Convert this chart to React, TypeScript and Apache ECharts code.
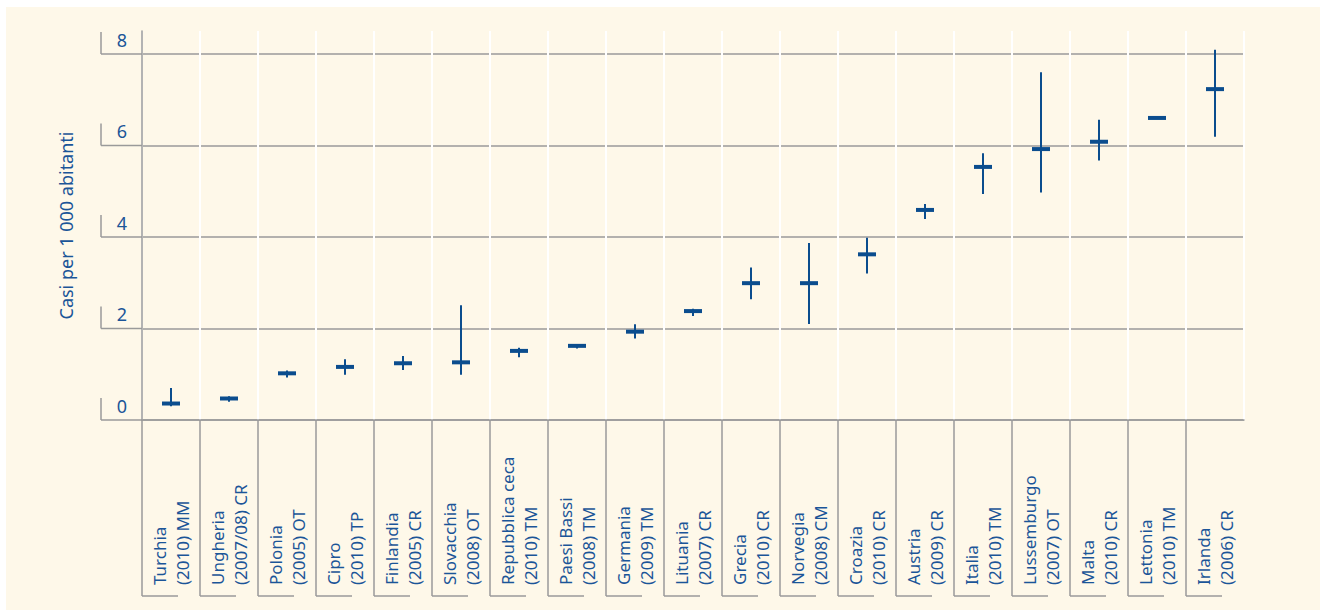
import React, { useEffect, useRef } from 'react';
import * as echarts from 'echarts';

const categories = [
  'Turchia\n(2010) MM',
  'Ungheria\n(2007/08) CR',
  'Polonia\n(2005) OT',
  'Cipro\n(2010) TP',
  'Finlandia\n(2005) CR',
  'Slovacchia\n(2008) OT',
  'Repubblica ceca\n(2010) TM',
  'Paesi Bassi\n(2008) TM',
  'Germania\n(2009) TM',
  'Lituania\n(2007) CR',
  'Grecia\n(2010) CR',
  'Norvegia\n(2008) CM',
  'Croazia\n(2010) CR',
  'Austria\n(2009) CR',
  'Italia\n(2010) TM',
  'Lussemburgo\n(2007) OT',
  'Malta\n(2010) CR',
  'Lettonia\n(2010) TM',
  'Irlanda\n(2006) CR',
];

const values = [0.36, 0.47, 1.02, 1.16, 1.24, 1.26, 1.51, 1.62, 1.93, 2.38, 2.99, 2.99, 3.62, 4.59, 5.53, 5.92, 6.08, 6.6, 7.23];
const lows = [0.3, 0.4, 0.93, 0.99, 1.09, 0.99, 1.37, 1.56, 1.78, 2.27, 2.64, 2.1, 3.2, 4.39, 4.94, 4.97, 5.67, 6.6, 6.19];
const highs = [0.7, 0.52, 1.08, 1.33, 1.4, 2.51, 1.58, 1.64, 2.09, 2.43, 3.33, 3.87, 3.98, 4.72, 5.83, 7.6, 6.56, 6.6, 8.09];
const yTicks = [0, 2, 4, 6, 8];

const FONT = '"Noto Sans", sans-serif';
const TEXT = '#1B5598';
const MARK = '#0B4D8E';
const GRID = '#9A9A9A';

export default function App() {
  const ref = useRef<HTMLDivElement>(null);

  useEffect(() => {
    if (!ref.current) return;
    const chart = echarts.init(ref.current, undefined, { renderer: 'svg' });
    const option: any = {
      animation: false,
      textStyle: { fontFamily: FONT },
      graphic: [
        {
          type: 'rect',
          z: -100,
          silent: true,
          shape: { x: 6, y: 7, width: 1314, height: 603 },
          style: { fill: '#FEF8E9' },
        },
      ],
      grid: { left: 142, right: 76, top: 31, bottom: 190 },
      xAxis: {
        type: 'category',
        data: categories,
        axisLine: { show: true, lineStyle: { color: GRID, width: 1.5 } },
        axisTick: { show: false },
        axisLabel: {
          interval: 0,
          rotate: 90,
          align: 'left',
          verticalAlign: 'middle',
          margin: 165,
          color: TEXT,
          fontSize: 17,
          lineHeight: 23,
          fontFamily: FONT,
        },
        splitLine: { show: true, lineStyle: { color: '#FFFFFF', width: 2 } },
      },
      yAxis: {
        type: 'value',
        min: 0,
        max: 8.5,
        interval: 2,
        name: 'Casi per 1 000 abitanti',
        nameLocation: 'middle',
        nameGap: 67,
        nameTextStyle: { color: TEXT, fontSize: 18, fontFamily: FONT },
        axisLine: { show: true, lineStyle: { color: GRID, width: 1.5 } },
        axisTick: { show: false },
        axisLabel: {
          showMaxLabel: false,
          formatter: (v: number) => (v % 2 === 0 ? String(v) : ''),
          margin: 20,
          align: 'center',
          verticalAlign: 'bottom',
          padding: [0, 0, 5, 0],
          color: TEXT,
          fontSize: 18,
          fontFamily: FONT,
        },
        splitLine: { show: true, showMaxLine: false, lineStyle: { color: GRID, width: 1.5 } },
      },
      series: [
        {
          type: 'custom',
          name: 'frames',
          clip: false,
          data: yTicks.map((t) => [0, t]),
          encode: { x: 0, y: 1 },
          z: 3,
          renderItem: (params: any, api: any) => {
            const p = api.coord([api.value(0), api.value(1)]);
            const band = api.size([1, 0])[0];
            const left = p[0] - band / 2 - 41;
            return {
              type: 'group',
              children: [
                { type: 'line', shape: { x1: left, y1: p[1], x2: left + 41, y2: p[1] }, style: { stroke: GRID, lineWidth: 1.5 } },
                { type: 'line', shape: { x1: left, y1: p[1], x2: left, y2: p[1] - 22 }, style: { stroke: GRID, lineWidth: 1.5 } },
              ],
            };
          },
        },
        {
          type: 'custom',
          name: 'casi',
          clip: false,
          data: values.map((v, i) => [i, v, lows[i], highs[i]]),
          encode: { x: 0, y: 1 },
          z: 4,
          renderItem: (params: any, api: any) => {
            const idx = api.value(0);
            const c = api.coord([idx, api.value(1)]);
            const lo = api.coord([idx, api.value(2)]);
            const hi = api.coord([idx, api.value(3)]);
            const base = api.coord([idx, 0]);
            const band = api.size([1, 0])[0];
            const left = c[0] - band / 2;
            const bottom = base[1] + 176;
            return {
              type: 'group',
              children: [
                { type: 'line', shape: { x1: left, y1: base[1], x2: left, y2: bottom }, style: { stroke: GRID, lineWidth: 1.5 } },
                { type: 'line', shape: { x1: left, y1: bottom, x2: left + 36, y2: bottom }, style: { stroke: GRID, lineWidth: 1.5 } },
                { type: 'line', shape: { x1: c[0], y1: lo[1], x2: c[0], y2: hi[1] }, style: { stroke: MARK, lineWidth: 2 } },
                { type: 'rect', shape: { x: c[0] - 9, y: c[1] - 2, width: 18, height: 4 }, style: { fill: MARK } },
              ],
            };
          },
        },
      ],
    };
    chart.setOption(option);
    return () => chart.dispose();
  }, []);

  return (
    <div
      ref={ref}
      style={{ position: 'fixed', left: 0, top: 0, width: 1320, height: 610, background: '#FFFFFF' }}
    />
  );
}
